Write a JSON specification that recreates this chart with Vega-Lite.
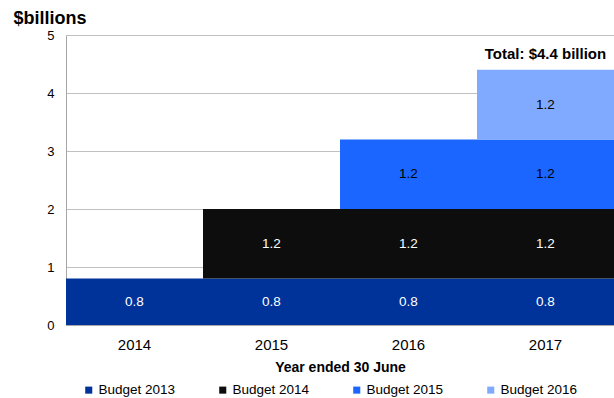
{
  "$schema": "https://vega.github.io/schema/vega-lite/v6.json",
  "width": 548,
  "height": 290,
  "autosize": {"type": "none"},
  "padding": {"left": 66, "top": 35, "right": 0, "bottom": 73},
  "background": "white",
  "config": {"font": "Liberation Sans", "view": {"stroke": null}},
  "data": {"values": [
    {"year": "2014", "budget": "Budget 2013", "value": 0.8},
    {"year": "2015", "budget": "Budget 2013", "value": 0.8},
    {"year": "2015", "budget": "Budget 2014", "value": 1.2},
    {"year": "2016", "budget": "Budget 2013", "value": 0.8},
    {"year": "2016", "budget": "Budget 2014", "value": 1.2},
    {"year": "2016", "budget": "Budget 2015", "value": 1.2},
    {"year": "2017", "budget": "Budget 2013", "value": 0.8},
    {"year": "2017", "budget": "Budget 2014", "value": 1.2},
    {"year": "2017", "budget": "Budget 2015", "value": 1.2},
    {"year": "2017", "budget": "Budget 2016", "value": 1.2}
  ]},
  "transform": [
    {"stack": "value", "groupby": ["year"], "sort": [{"field": "budget", "order": "ascending"}], "as": ["v0", "v1"]}
  ],
  "encoding": {
    "x": {
      "field": "year", "type": "ordinal",
      "scale": {"paddingInner": 0, "paddingOuter": 0},
      "axis": {
        "title": "Year ended 30 June", "titleFontSize": 14, "titleFontWeight": "bold", "titleColor": "black", "titlePadding": 8,
        "labelAngle": 0, "labelFontSize": 15, "labelColor": "black", "labelPadding": 12,
        "ticks": false, "domainColor": "#A6A6A6", "domainWidth": 1, "grid": false
      }
    },
    "y": {
      "field": "v1", "type": "quantitative",
      "scale": {"domain": [0, 5], "nice": false},
      "axis": {
        "title": "$billions", "titleAngle": 0, "titleAlign": "left", "titleBaseline": "alphabetic",
        "titleX": -53, "titleY": -12, "titleFontSize": 18, "titleFontWeight": "bold", "titleColor": "black",
        "values": [0, 1, 2, 3, 4, 5], "labelFontSize": 13, "labelColor": "black", "labelPadding": 12,
        "ticks": false, "domainColor": "#A6A6A6", "gridColor": "#C0C0C0", "gridWidth": 1
      }
    }
  },
  "layer": [
    {
      "mark": {"type": "bar"},
      "encoding": {
        "y2": {"field": "v0"},
        "color": {
          "field": "budget", "type": "nominal",
          "scale": {
            "domain": ["Budget 2013", "Budget 2014", "Budget 2015", "Budget 2016"],
            "range": ["#003399", "#0D0D0D", "#1A66FF", "#80AAFF"]
          },
          "legend": {
            "title": null, "orient": "none", "direction": "horizontal", "columns": 4,
            "legendX": 16, "legendY": 348, "symbolType": "square", "symbolSize": 50,
            "symbolStrokeWidth": 0, "labelFontSize": 13.5, "labelColor": "black", "labelOffset": 3,
            "columnPadding": 40
          }
        }
      }
    },
    {
      "transform": [{"filter": "datum.budget == 'Budget 2013'"}],
      "mark": {"type": "text", "dy": 23, "fontSize": 13.5, "color": "white"},
      "encoding": {
        "text": {"field": "value", "type": "quantitative", "format": ".1f"}
      }
    },
    {
      "transform": [{"filter": "datum.budget != 'Budget 2013'"}],
      "mark": {"type": "text", "dy": 35, "fontSize": 13.5},
      "encoding": {
        "text": {"field": "value", "type": "quantitative", "format": ".1f"},
        "color": {"condition": {"test": "datum.budget == 'Budget 2014'", "value": "white"}, "value": "black"}
      }
    },
    {
      "transform": [{"filter": "datum.year == '2017' && datum.budget == 'Budget 2016'"}],
      "mark": {"type": "text", "text": "Total: $4.4 billion", "dy": -11, "baseline": "alphabetic", "fontSize": 15, "fontWeight": "bold", "color": "black"}
    }
  ]
}
